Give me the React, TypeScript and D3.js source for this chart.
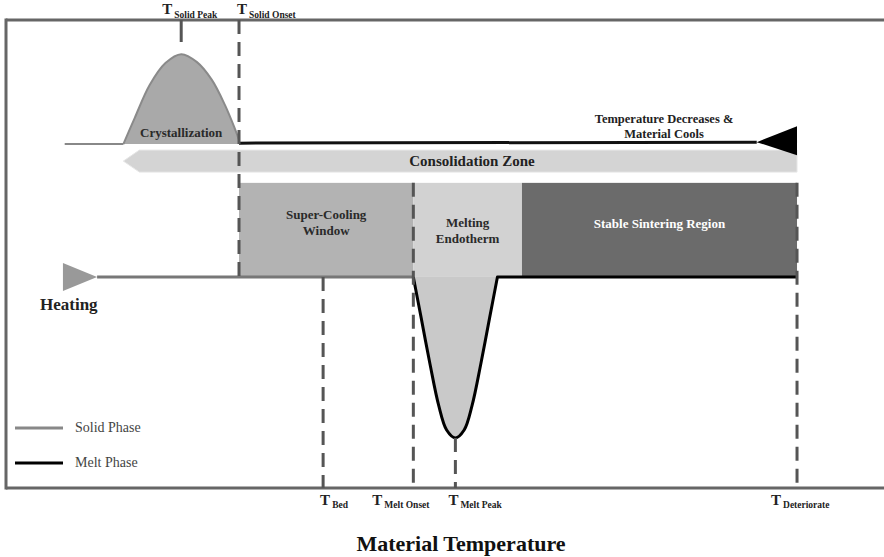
import React from "react";
import * as d3 from "d3";

// ---- Data (abstract temperature units 0..100, heat-flow units 0..100) ----
const markerNames = ["Solid Peak", "Solid Onset", "Bed", "Melt Onset", "Melt Peak", "Deteriorate"];
const markerTemps = [20.0, 26.6, 36.2, 46.5, 51.3, 90.3];

// crystallization exotherm (solid phase, cooling)
const crystTemps = [13.4, 14.7, 16.4, 18.2, 20.0, 21.8, 23.5, 25.0, 26.1, 26.6];
const crystFlow = [73.5, 79.1, 86.1, 90.8, 92.7, 91.0, 87.2, 81.8, 76.9, 74.4];

// melting endotherm (melt phase, heating)
const meltTemps = [46.5, 47.4, 48.4, 49.4, 50.3, 51.3, 52.3, 53.2, 54.2, 55.2, 56.1];
const meltFlow = [45.1, 36.3, 26.5, 17.6, 12.4, 10.7, 12.4, 17.6, 26.5, 36.3, 45.1];

const heatingBaseline = 45.1;
const coolingBaseline = 73.5;
const coolingLine = 73.9;
const regionTop = 65.2;

// regions between markers
const regionNames = ["Super-Cooling Window", "Melting Endotherm", "Stable Sintering Region"];
const regionStart = [26.6, 46.5, 58.9];
const regionEnd = [46.5, 58.9, 90.3];

const legendNames = ["Solid Phase", "Melt Phase"];

export default function App() {
  const W = 884, H = 557;
  const x = d3.scaleLinear().domain([0, 100]).range([6, 882]);
  const y = d3.scaleLinear().domain([0, 100]).range([488, 20]);

  const serif = "Liberation Serif";
  const dash = "14 8";
  const dashColor = "#555";

  const crystPts: [number, number][] = crystTemps.map((t, i) => [x(t), y(crystFlow[i])]);
  const crystLine = d3.line().curve(d3.curveCatmullRom.alpha(0.5))(crystPts) as string;
  const crystArea = crystLine + `L${x(crystTemps[crystTemps.length - 1])},${y(coolingBaseline)}L${x(crystTemps[0])},${y(coolingBaseline)}Z`;

  const meltPts: [number, number][] = meltTemps.map((t, i) => [x(t), y(meltFlow[i])]);
  const meltLine = d3.line().curve(d3.curveCatmullRom.alpha(0.5))(meltPts) as string;
  const meltPath = meltLine + `L${x(markerTemps[5])},${y(heatingBaseline)}`;

  const regionFill = ["#b3b3b3", "#d2d2d2", "#6b6b6b"];
  const regionText = ["#2a2a2a", "#2a2a2a", "#ffffff"];
  const regionLines = [["Super-Cooling", "Window"], ["Melting", "Endotherm"], ["Stable Sintering Region"]];
  const regionTextY = [219, 227, 228];

  const mx = (name: string) => x(markerTemps[markerNames.indexOf(name)]);

  // consolidation arrow (pointing left)
  const consTop = y(72.2), consBot = y(67.5), consMid = (consTop + consBot) / 2;
  const consL = x(13.4), consR = x(90.3);
  const consPath = `M${consL},${consMid}L${consL + 16},${consTop}L${consR},${consTop}L${consR},${consBot}L${consL + 16},${consBot}Z`;

  // cooling arrow head
  const headTip = x(85.7), headBase = x(90.3), cy = y(coolingLine);

  const topLabel = (name: string, dx: number) => (
    <text key={name} x={mx(name) + dx} y={14} fontFamily={serif} fontWeight="bold" fill="#222">
      <tspan fontSize={15}>T</tspan>
      <tspan fontSize={9.5} dy={4} dx={2}>{name}</tspan>
    </text>
  );
  const bottomLabel = (name: string, dx: number) => (
    <text key={name} x={mx(name) + dx} y={505} fontFamily={serif} fontWeight="bold" fill="#222">
      <tspan fontSize={15}>T</tspan>
      <tspan fontSize={9.5} dy={3} dx={2}>{name}</tspan>
    </text>
  );

  return (
    <svg width={W} height={H} style={{ position: "absolute", left: 0, top: 0, background: "#fff" }}>
      {/* frame */}
      <path d={`M${x(0)},${y(100)}L${W + 5},${y(100)}`} stroke="#666" strokeWidth={3} fill="none" />
      <path d={`M${x(0)},${y(100) - 1.5}L${x(0)},${y(0) + 1.5}`} stroke="#666" strokeWidth={3} fill="none" />
      <path d={`M${x(0)},${y(0)}L${W + 5},${y(0)}`} stroke="#666" strokeWidth={3} fill="none" />

      {/* regions */}
      {regionNames.map((n, i) => (
        <rect key={n} x={x(regionStart[i])} y={y(regionTop)} width={x(regionEnd[i]) - x(regionStart[i])}
          height={y(heatingBaseline) - y(regionTop)} fill={regionFill[i]} />
      ))}

      {/* consolidation arrow */}
      <path d={consPath} fill="#d4d4d4" stroke="#e6e6e6" strokeWidth={1} />
      <text x={472} y={166} textAnchor="middle" fontFamily={serif} fontWeight="bold" fontSize={15} fill="#222">Consolidation Zone</text>

      {/* crystallization */}
      <line x1={x(6.7)} x2={x(crystTemps[0])} y1={y(coolingBaseline)} y2={y(coolingBaseline)} stroke="#888" strokeWidth={2} />
      <path d={crystArea} fill="#a9a9a9" stroke="none" />
      <path d={crystLine} fill="none" stroke="#8a8a8a" strokeWidth={2} />
      <text x={x(20)} y={137} textAnchor="middle" fontFamily={serif} fontWeight="bold" fontSize={13} fill="#2a2a2a">Crystallization</text>

      {/* cooling melt line */}
      <line x1={x(26.6)} x2={headTip} y1={cy + 1} y2={cy} stroke="#111" strokeWidth={3} />
      <path d={`M${headTip},${cy}L${headBase},${cy - 16}L${headBase},${cy + 13}Z`} fill="#000" />
      <text x={664} y={123} textAnchor="middle" fontFamily={serif} fontWeight="bold" fontSize={12.5} fill="#222">Temperature Decreases &amp;</text>
      <text x={664} y={138} textAnchor="middle" fontFamily={serif} fontWeight="bold" fontSize={12.5} fill="#222">Material Cools</text>

      {/* heating solid line */}
      <line x1={x(10.4)} x2={x(46.5)} y1={y(heatingBaseline)} y2={y(heatingBaseline)} stroke="#777" strokeWidth={3} />
      <path d={`M${x(6.5)},${y(heatingBaseline) - 14}L${x(10.4)},${y(heatingBaseline)}L${x(6.5)},${y(heatingBaseline) + 14}Z`} fill="#999" />
      <text x={40} y={310} fontFamily={serif} fontWeight="bold" fontSize={17} fill="#222">Heating</text>

      {/* melting endotherm */}
      <path d={meltLine + "Z"} fill="#c9c9c9" />
      <path d={meltPath} fill="none" stroke="#000" strokeWidth={3} strokeLinejoin="round" />

      {/* region labels */}
      {regionNames.map((n, i) => (
        <text key={n} x={(x(regionStart[i]) + x(regionEnd[i])) / 2} textAnchor="middle" fontFamily={serif}
          fontWeight="bold" fontSize={13} fill={regionText[i]}>
          {regionLines[i].map((l, j) => (
            <tspan key={j} x={(x(regionStart[i]) + x(regionEnd[i])) / 2} y={regionTextY[i] + j * 16}>{l}</tspan>
          ))}
        </text>
      ))}

      {/* marker lines */}
      <line x1={mx("Solid Peak")} x2={mx("Solid Peak")} y1={y(100)} y2={42} stroke={dashColor} strokeWidth={3} />
      <line x1={mx("Solid Onset")} x2={mx("Solid Onset")} y1={y(100)} y2={y(heatingBaseline)} stroke={dashColor} strokeWidth={3} strokeDasharray={dash} />
      <line x1={mx("Bed")} x2={mx("Bed")} y1={y(heatingBaseline)} y2={y(0)} stroke={dashColor} strokeWidth={3} strokeDasharray={dash} />
      <line x1={mx("Melt Onset")} x2={mx("Melt Onset")} y1={y(regionTop)} y2={y(0)} stroke={dashColor} strokeWidth={3} strokeDasharray={dash} />
      <line x1={mx("Melt Peak")} x2={mx("Melt Peak")} y1={y(10.7)} y2={y(0)} stroke={dashColor} strokeWidth={3} strokeDasharray={dash} />
      <line x1={mx("Deteriorate")} x2={mx("Deteriorate")} y1={y(regionTop)} y2={y(0)} stroke={dashColor} strokeWidth={3} strokeDasharray={dash} />

      {/* top labels */}
      {topLabel("Solid Peak", -19)}
      {topLabel("Solid Onset", -2)}

      {/* bottom labels */}
      {bottomLabel("Bed", -3)}
      {bottomLabel("Melt Onset", -41)}
      {bottomLabel("Melt Peak", -7)}
      {bottomLabel("Deteriorate", -26)}

      {/* legend */}
      {legendNames.map((n, i) => (
        <g key={n}>
          <line x1={15} x2={63} y1={428 + i * 35} y2={428 + i * 35} stroke={i === 0 ? "#888" : "#000"} strokeWidth={3} />
          <text x={75} y={432 + i * 35} fontFamily={serif} fontSize={14} fill="#444">{n}</text>
        </g>
      ))}

      {/* axis title */}
      <text x={461} y={551} textAnchor="middle" fontFamily={serif} fontWeight="bold" fontSize={22} fill="#111">Material Temperature</text>
    </svg>
  );
}
